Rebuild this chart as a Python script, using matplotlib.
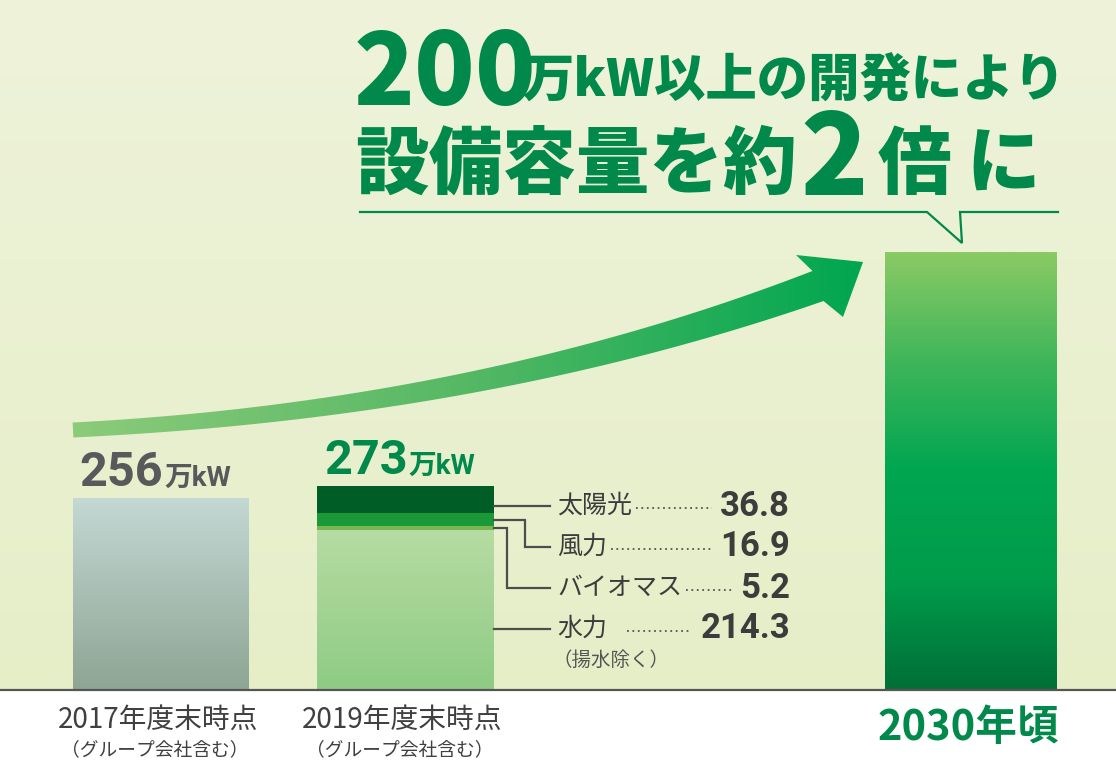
import numpy as np
import matplotlib.pyplot as plt
from matplotlib.colors import LinearSegmentedColormap
from matplotlib.patches import Polygon

plt.rcParams['font.family'] = ['Noto Sans CJK JP', 'DejaVu Sans']

# ---- data (unit: 万kW) ----
periods = ['2017年度末時点', '2019年度末時点', '2030年頃']
period_notes = ['（グループ会社含む）', '（グループ会社含む）', '']
totals = [256, 273, 585]          # 2030 bar height as drawn (about 2x)
mix_names = ['水力', 'バイオマス', '風力', '太陽光']   # stacked bottom -> top
mix_values = [214.3, 5.2, 16.9, 36.8]
mix_note = '（揚水除く）'

# ---- layout ----
W, H = 1116, 762
BASE = 690                       # baseline in pixels from top
PX_PER_UNIT = 204 / 273
bar_left = [73, 317, 885]
bar_width = [176, 177, 172]
GREEN = '#00894a'
GRAY = '#3c3c3c'

fig = plt.figure(figsize=(W / 100, H / 100), dpi=100, facecolor='white')


def grad_img(ax, extent, colors, horizontal=False, zorder=1):
    cmap = LinearSegmentedColormap.from_list('g', colors)
    arr = np.linspace(0, 1, 256)
    arr = arr.reshape(1, -1) if horizontal else arr.reshape(-1, 1)
    return ax.imshow(arr, cmap=cmap, extent=extent, origin='upper',
                     aspect='auto', interpolation='bilinear', zorder=zorder)


# background
bg = fig.add_axes([0, 0, 1, 1], zorder=0)
bg.axis('off')
grad_img(bg, [0, W, BASE, 0], ['#eef3da', '#e6eec8'])
bg.set_xlim(0, W)
bg.set_ylim(H, 0)

# ---- bars (data axes) ----
ax = fig.add_axes([0, (H - BASE) / H, 1, BASE / H], zorder=2)
ax.patch.set_alpha(0)

# 2017
grad_img(ax, [bar_left[0], bar_left[0] + bar_width[0], 0, totals[0]],
         ['#c4d8d4', '#8da593'], zorder=2)

# 2019 stacked
seg_colors = [None, '#79b552', '#1a9938', '#005d25']
bottoms = np.concatenate([[0], np.cumsum(mix_values)[:-1]])
x0, w1 = bar_left[1], bar_width[1]
grad_img(ax, [x0, x0 + w1, 0, mix_values[0]], ['#b6dca2', '#8ecb84'], zorder=2)
for v, b, c in zip(mix_values[1:], bottoms[1:], seg_colors[1:]):
    ax.bar(x0, v, bottom=b, width=w1, align='edge', color=c, zorder=3)

# 2030
grad_img(ax, [bar_left[2], bar_left[2] + bar_width[2], 0, totals[2]],
         ['#8bca65', '#3fb55a', '#00a651', '#009c4b', '#006f37'], zorder=2)

ax.axhline(0, color='#555555', lw=1.6, clip_on=False, zorder=4)
ax.set_xlim(0, W)
ax.set_ylim(0, BASE / PX_PER_UNIT)
ax.axis('off')

# total labels above the 2017 / 2019 bars
for i, col in [(0, '#58595b'), (1, GREEN)]:
    cx = bar_left[i] + bar_width[i] / 2 + 2
    ax.annotate(f'{totals[i]}', (cx, totals[i]), xytext=(0, 9),
                textcoords='offset points', ha='right', va='baseline',
                fontsize=35, fontweight='bold', color=col,
                family=['Roboto', 'Noto Sans CJK JP'])
    ax.annotate('万kW', (cx, totals[i]), xytext=(1, 9),
                textcoords='offset points', ha='left', va='baseline',
                fontsize=20, fontweight='bold', color=col,
                family=['Roboto', 'Noto Sans CJK JP'])

# ---- decoration overlay (pixel coords) ----
deco = fig.add_axes([0, 0, 1, 1], zorder=3)
deco.patch.set_alpha(0)
deco.set_xlim(0, W)
deco.set_ylim(H, 0)
deco.axis('off')

# curved arrow
P0, P1, P2 = np.array([73, 430]), np.array([480, 410]), np.array([818, 286])
t = np.linspace(0, 1, 80)[:, None]
pts = (1 - t) ** 2 * P0 + 2 * t * (1 - t) * P1 + t ** 2 * P2
tan = 2 * (1 - t) * (P1 - P0) + 2 * t * (P2 - P1)
tan = tan / np.linalg.norm(tan, axis=1, keepdims=True)
nrm = np.column_stack([tan[:, 1], -tan[:, 0]])
half = (15 + 17 * t[:, 0] ** 1.5) / 2
upper = pts + nrm * half[:, None]
lower = pts - nrm * half[:, None]
head = np.array([[796, 255], [863, 262], [843, 317]])
outline = np.vstack([upper, head, lower[::-1]])
arrow_clip = Polygon(outline, closed=True, facecolor='none', edgecolor='none')
deco.add_patch(arrow_clip)
im = grad_img(deco, [70, 866, 445, 250], ['#8ccb7a', '#55b865', '#00a650'],
              horizontal=True, zorder=2)
im.set_clip_path(arrow_clip)

# title
deco.text(354, 105, '200', fontsize=72, fontweight='black', color=GREEN,
          ha='left', va='baseline')
deco.text(522, 96, '万kW以上の開発により', fontsize=37, fontweight='black',
          color=GREEN, ha='left', va='baseline')
deco.text(355, 188, '設備容量を約', fontsize=53, fontweight='black',
          color=GREEN, ha='left', va='baseline')
deco.text(800, 195, '2', fontsize=80, fontweight='black', color=GREEN,
          ha='left', va='baseline')
deco.text(878, 188, '倍', fontsize=53, fontweight='black', color=GREEN,
          ha='left', va='baseline')
deco.text(966, 188, 'に', fontsize=53, fontweight='black', color=GREEN,
          ha='left', va='baseline')
deco.plot([360, 927, 962, 960, 1058], [212, 212, 243, 212, 212],
          color=GREEN, lw=1.6, solid_joinstyle='miter')

# breakdown callouts
label_rows = {'太陽光': 506, '風力': 547, 'バイオマス': 588, '水力': 629}
elbow_x = {'風力': 525, 'バイオマス': 507}
bar_right = bar_left[1] + bar_width[1]
lbl_x, val_x = 557, 790
labels, values = [], []
for name, v, b in zip(mix_names, mix_values, bottoms):
    ry = label_rows[name]
    top_px = BASE - (b + v) * PX_PER_UNIT
    bot_px = BASE - b * PX_PER_UNIT
    if top_px <= ry <= bot_px:
        deco.plot([bar_right, lbl_x - 7], [ry, ry], color='#4d4d4d', lw=1.6)
    else:
        my = (top_px + bot_px) / 2
        ex = elbow_x[name]
        deco.plot([bar_right, ex, ex, lbl_x - 7], [my, my, ry, ry],
                  color='#4d4d4d', lw=1.6, solid_joinstyle='miter')
    labels.append(deco.text(lbl_x, ry, name, fontsize=18, color=GRAY,
                            ha='left', va='center'))
    values.append(deco.text(val_x, ry, f'{v}', fontsize=25, fontweight='bold',
                            color=GRAY, ha='right', va='center',
                            family=['Roboto', 'Noto Sans CJK JP']))
deco.text(lbl_x - 4, 660, mix_note, fontsize=14, color='#555555',
          ha='left', va='center')

fig.canvas.draw()
inv = deco.transData.inverted()
for name, lt, vt in zip(mix_names, labels, values):
    lx1 = inv.transform(lt.get_window_extent().get_points())[1, 0]
    vx0 = inv.transform(vt.get_window_extent().get_points())[0, 0]
    gap = 20 if name == '水力' else 4
    ry = label_rows[name] + 2
    deco.plot([lx1 + gap, vx0 - 8], [ry, ry], color='#555555', lw=1.3,
              ls=(0, (1, 2)))

# period labels under the bars
for i, (p, note) in enumerate(zip(periods, period_notes)):
    cx = bar_left[i] + bar_width[i] / 2
    if note:
        deco.text(cx - 3, 720, p, fontsize=20, color='#404040',
                  ha='center', va='center')
        deco.text(cx - 6, 750, note, fontsize=13.5, color='#404040',
                  ha='center', va='center')
    else:
        deco.text(cx - 3, 728, p, fontsize=30, fontweight='bold', color=GREEN,
                  ha='center', va='center')

fig.savefig('out.png', dpi=100, facecolor='white')
